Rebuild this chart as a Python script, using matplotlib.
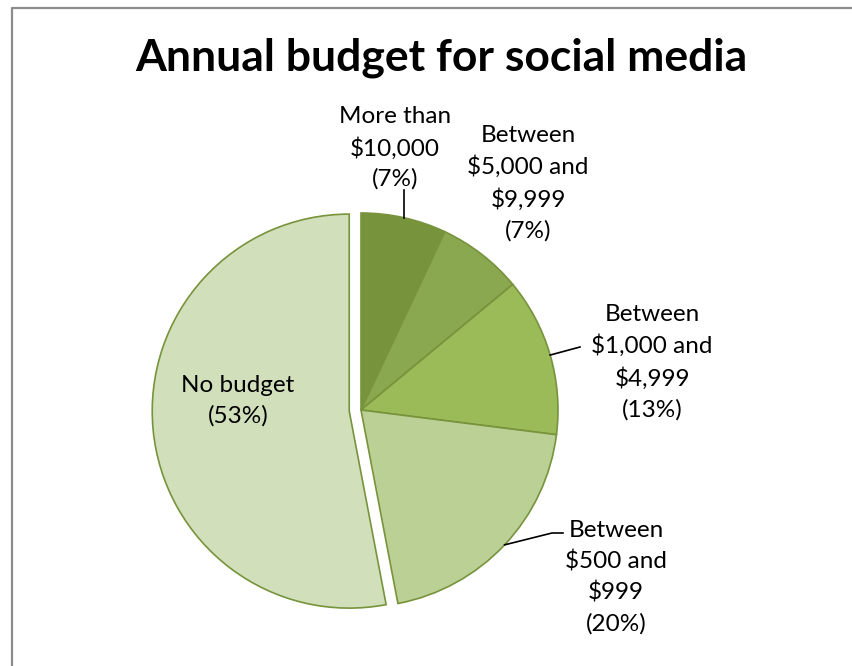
import numpy as np
import matplotlib
matplotlib.use('Agg')
import matplotlib.pyplot as plt
from matplotlib.lines import Line2D

plt.rcParams['font.family'] = ['Lato', 'DejaVu Sans']

categories = ['More than\n$10,000', 'Between\n$5,000 and\n$9,999', 'Between\n$1,000 and\n$4,999',
              'Between\n$500 and\n$999', 'No budget']
shares = [7, 7, 13, 20, 53]
colors = ['#77933C', '#8AA84F', '#9BBB59', '#BBD095', '#D1DFBB']
explode = [0, 0, 0, 0, 0.06]

W, H = 852, 666
CX, CY, R = 361, 410, 197  # pie centre and radius in pixels


def px(x, y):
    # pixel position (from top-left) -> data coords with pie radius = 1
    return (x - CX) / R, (CY - y) / R


fig = plt.figure(figsize=(W / 100, H / 100), dpi=100)
ax = fig.add_axes([0, 0, 1, 1])
wedges, _ = ax.pie(shares, colors=colors, explode=explode, startangle=90, counterclock=False,
                   wedgeprops=dict(edgecolor='#77933C', linewidth=1.2))
ax.set_xlim(-CX / R, (W - CX) / R)
ax.set_ylim(-(H - CY) / R, CY / R)
ax.axis('off')

# frame around the chart (only left and top edges are visible)
fx, fy = 11.5 / W, 1 - 7.5 / H
fig.lines.append(Line2D([fx, fx, 1.01], [-0.01, fy, fy], transform=fig.transFigure,
                        color='#8C8C8C', linewidth=1.6))

fig.text(441 / W, 1 - 58 / H, 'Annual budget for social media', ha='center', va='center',
         fontsize=32, fontweight='bold')

labels = [f'{c}\n({s}%)' for c, s in zip(categories, shares)]
label_pos = [(395, 148), (528, 183), (652, 362), (616, 577), (238, 401)]
for lab, (x, y) in zip(labels, label_pos):
    ax.text(*px(x, y), lab, ha='center', va='center', fontsize=17.5, linespacing=1.52)


def edge_point(i):
    w = wedges[i]
    ang = np.deg2rad((w.theta1 + w.theta2) / 2)
    return w.center[0] + np.cos(ang), w.center[1] + np.sin(ang)


# leader lines
x0, y0 = edge_point(0)
ax.plot([x0, x0], [y0, px(0, 190)[1]], color='black', lw=1.2)
x0, y0 = edge_point(2)
x1, y1 = px(580, 347)
ax.plot([x0, x1], [y0, y1], color='black', lw=1.2)
x0, y0 = edge_point(3)
xa, ya = px(552, 533)
xb, yb = px(563, 533)
ax.plot([x0, xa, xb], [y0, ya, yb], color='black', lw=1.2)

fig.savefig('out.png', dpi=100)
